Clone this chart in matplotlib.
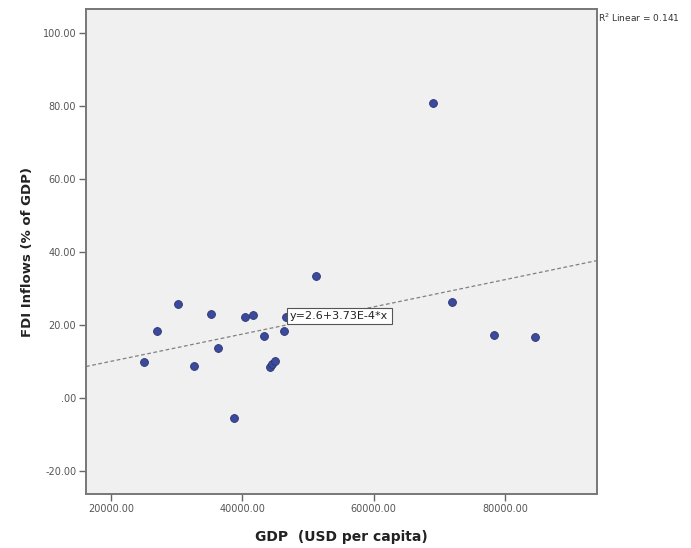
import matplotlib
matplotlib.use("Agg")
import matplotlib.pyplot as plt
import numpy as np
from matplotlib.ticker import FuncFormatter

gdp = [25030, 27010, 30210, 32640, 35230, 36300, 38740, 40410, 41630, 43300,
       44220, 44480, 44940, 46330, 46650, 51230, 69050, 71990, 78340, 84580]
fdi = [9.9, 18.4, 25.8, 8.8, 23.0, 13.8, -5.5, 22.2, 22.8, 17.0,
       8.6, 9.3, 10.1, 18.3, 22.2, 33.5, 80.8, 26.3, 17.3, 16.8]
intercept = 2.6
slope = 3.73e-4
r2 = 0.141
xticks = [20000, 40000, 60000, 80000]
yticks = [-20, 0, 20, 40, 60, 80, 100]

fig = plt.figure(figsize=(6.91, 5.48), dpi=100)
ax = fig.add_axes([0.1245, 0.0985, 0.7395, 0.8851])
ax.set_facecolor('#f0f0f0')
xlim = (16190, 94010)
ylim = (-26.3, 106.6)
ax.set_xlim(*xlim)
ax.set_ylim(*ylim)

xs = np.array(xlim)
ax.plot(xs, intercept + slope * xs, linestyle=(0, (3, 2)), color='#808080', linewidth=0.9, zorder=2)
ax.scatter(gdp, fdi, s=32, color='#3b4a9c', edgecolors='#2a3470', linewidths=0.6, zorder=3)

ax.text(47250, 22.5, "y=2.6+3.73E-4*x", fontsize=8, color='#222222', va='center', ha='left',
        bbox=dict(boxstyle='square,pad=0.3', facecolor='white', edgecolor='#555555', linewidth=0.8), zorder=4)

fig.text(0.866, 0.968, "R$^2$ Linear = " + f"{r2:.3f}", fontsize=6.5, color='#333333', ha='left', va='center')

ax.set_xticks(xticks)
ax.set_yticks(yticks)
fmt = FuncFormatter(lambda v, p: ".00" if v == 0 else f"{v:.2f}")
ax.xaxis.set_major_formatter(FuncFormatter(lambda v, p: f"{v:.2f}"))
ax.yaxis.set_major_formatter(fmt)
ax.tick_params(axis='both', direction='out', length=5, width=1, color='#666666', labelsize=7, labelcolor='#555555', pad=2)

for sp in ax.spines.values():
    sp.set_color('#777777')
    sp.set_linewidth(1.4)

ax.set_xlabel("GDP  (USD per capita)", fontsize=10, fontweight='bold', color='#222222', labelpad=12)
ax.set_ylabel("FDI Inflows (% of GDP)", fontsize=9.5, fontweight='bold', color='#222222', labelpad=6)

fig.savefig("out.png", dpi=100)
